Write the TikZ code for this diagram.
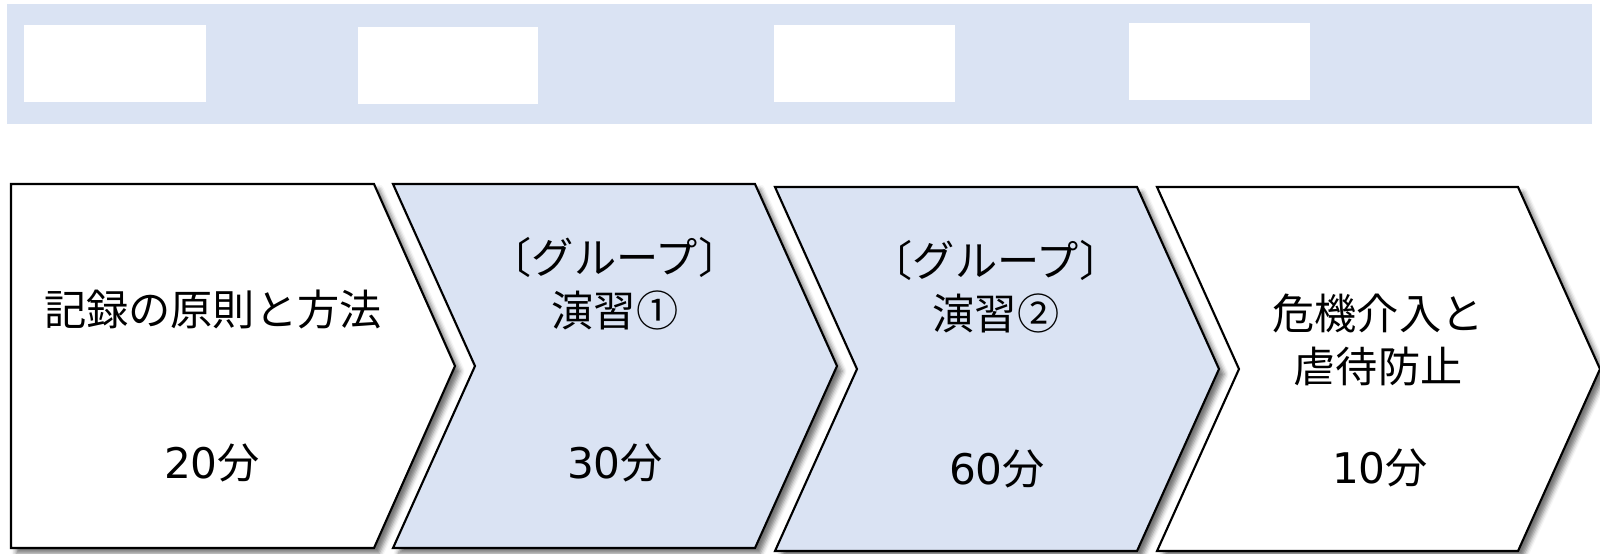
\documentclass[tikz,border=0pt]{standalone}
\usepackage{fontspec}
\setmainfont{Noto Sans CJK JP}
\newfontfamily\digitfont{DejaVu Sans}
\usetikzlibrary{positioning,shadows.blur}
\definecolor{stepblue}{HTML}{DAE3F3}

\begin{document}
\begin{tikzpicture}[
    x=0.01cm, y=-0.01cm,
    band/.style={fill=stepblue, draw=none},
    blank/.style={fill=white, draw=none},
    chevron/.style={draw=black, line width=0.6pt, line join=miter, fill=#1,
        blur shadow={shadow xshift=1.5pt, shadow yshift=-1.5pt, shadow blur radius=1.3pt, shadow opacity=55}},
    lbl/.style={font=\fontsize{12}{15}\selectfont, align=center, inner sep=0pt},
]
\useasboundingbox (0,0) rectangle (1600,553);

% header band with empty boxes
\fill[band] (7,4) rectangle (1592,124);
\fill[blank] (24,25) rectangle (206,102);
\fill[blank] (358,27) rectangle (538,104);
\fill[blank] (774,25) rectangle (955,102);
\fill[blank] (1129,23) rectangle (1310,100);

% process steps
\draw[chevron=white] (11,184) -- (374,184) -- (455,366) -- (374,548) -- (11,548) -- cycle;
\draw[chevron=stepblue] (393,184) -- (755,184) -- (837,366) -- (755,548) -- (393,548) -- (475,366) -- cycle;
\draw[chevron=stepblue] (775,187) -- (1137,187) -- (1219,369) -- (1137,551) -- (775,551) -- (857,369) -- cycle;
\draw[chevron=white] (1157,187) -- (1518,187) -- (1600,369) -- (1518,551) -- (1157,551) -- (1239,369) -- cycle;

\node[lbl] (rec) at (213,309) {記録の原則と方法};
\node[lbl] (rectime) at (212,463) {{\digitfont 20}分};
\node[lbl] (ex1) at (615,284) {〔グループ〕\\演習①};
\node[lbl] (ex1time) at (615,463) {{\digitfont 30}分};
\node[lbl] (ex2) at (996,287) {〔グループ〕\\演習②};
\node[lbl] (ex2time) at (997,469) {{\digitfont 60}分};
\node[lbl] (crisis) at (1378,340) {危機介入と\\虐待防止};
\node[lbl] (crisistime) at (1380,468) {{\digitfont 10}分};

\end{tikzpicture}
\end{document}
